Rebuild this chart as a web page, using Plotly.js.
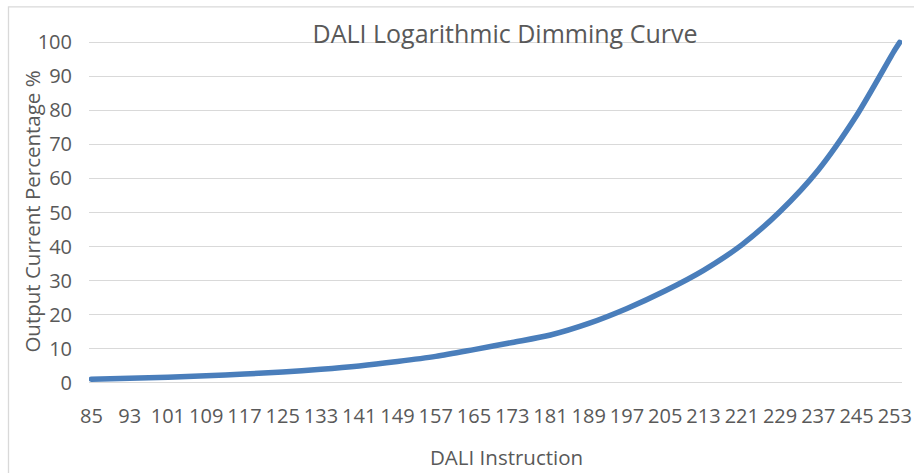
<!DOCTYPE html>
<html>
<head>
<meta charset="utf-8">
<script src="https://cdn.plot.ly/plotly-3.0.1.min.js"></script>
<style>
html,body{margin:0;padding:0;background:#fff;}
#chart{width:914px;height:473px;}
#chart .scatterlayer path.js-line{stroke-linecap:round;stroke-linejoin:round;}
</style>
</head>
<body>
<div id="chart"></div>
<script>
// DALI instruction values (x) and output current percentage (y)
const daliInstruction = [85, 93, 101, 109, 117, 125, 133, 141, 149, 157, 165, 173, 181, 189, 197, 205, 213, 221, 229, 237, 245, 253, 254];
const outputPercent   = [1.0, 1.3, 1.6, 2.0, 2.5, 3.1, 3.9, 4.9, 6.2, 7.7, 9.7, 11.8, 14.0, 17.4, 21.8, 27.0, 33.0, 40.5, 50.3, 62.5, 78.5, 97.8, 100];
const xTickVals = [85, 93, 101, 109, 117, 125, 133, 141, 149, 157, 165, 173, 181, 189, 197, 205, 213, 221, 229, 237, 245, 253];
const yTickVals = [0, 10, 20, 30, 40, 50, 60, 70, 80, 90, 100];
const chartTitle = 'DALI Logarithmic Dimming Curve';
const xTitle = 'DALI Instruction';
const yTitle = 'Output Current Percentage %';

const FONT = 'Open Sans, Noto Sans, sans-serif';
const TXT = '#595959';
const W = 914, H = 473;
const L = 88.6, R = 11.5, T = 39, B = 87.3;
const PW = W - L - R, PH = H - T - B;

const trace = {
  x: daliInstruction,
  y: outputPercent,
  type: 'scatter',
  mode: 'lines',
  line: {color: '#4a7ebb', width: 5.5, shape: 'spline', smoothing: 0.8},
  hoverinfo: 'x+y',
  showlegend: false
};

const layout = {
  width: W, height: H,
  paper_bgcolor: '#ffffff', plot_bgcolor: '#ffffff',
  margin: {l: L, r: R, t: T, b: B},
  font: {family: FONT, color: TXT, size: 20},
  title: {
    text: chartTitle,
    font: {family: FONT, size: 25, color: TXT},
    x: 505 / W, xref: 'container', xanchor: 'center',
    y: 1 - 34 / H, yref: 'container', yanchor: 'middle'
  },
  xaxis: {
    range: [84.5, 254.5],
    tickmode: 'array', tickvals: xTickVals, ticktext: xTickVals.map(String),
    showgrid: false, zeroline: false, showline: false,
    ticks: 'outside', ticklen: 12, tickcolor: 'rgba(0,0,0,0)',
    ticklabeloverflow: 'allow',
    tickfont: {family: FONT, size: 20, color: TXT},
    automargin: false
  },
  yaxis: {
    range: [-1, 101],
    tickmode: 'array', tickvals: yTickVals,
    showgrid: true, gridcolor: '#d9d9d9', gridwidth: 1.3,
    zeroline: false, showline: false,
    ticks: 'outside', ticklen: 12, tickcolor: 'rgba(0,0,0,0)',
    tickfont: {family: FONT, size: 20, color: TXT},
    automargin: false
  },
  annotations: [
    {text: xTitle, xref: 'paper', yref: 'paper',
     x: (507 - L) / PW, y: (H - B - 456.5) / PH, xanchor: 'center', yanchor: 'middle',
     showarrow: false, font: {family: FONT, size: 20.5, color: TXT}},
    {text: yTitle, xref: 'paper', yref: 'paper', textangle: -90,
     x: (32 - L) / PW, y: (H - B - 211) / PH, xanchor: 'center', yanchor: 'middle',
     showarrow: false, font: {family: FONT, size: 20.5, color: TXT}}
  ],
  shapes: [{
    type: 'rect', xref: 'paper', yref: 'paper',
    x0: (8 - L) / PW, x1: (930 - L) / PW,
    y0: (H - B - 490) / PH, y1: (H - B - 7) / PH,
    line: {color: '#d9d9d9', width: 1.3}, fillcolor: 'rgba(0,0,0,0)', layer: 'below'
  }]
};

Plotly.newPlot('chart', [trace], layout, {displayModeBar: false, staticPlot: true});
</script>
</body>
</html>
